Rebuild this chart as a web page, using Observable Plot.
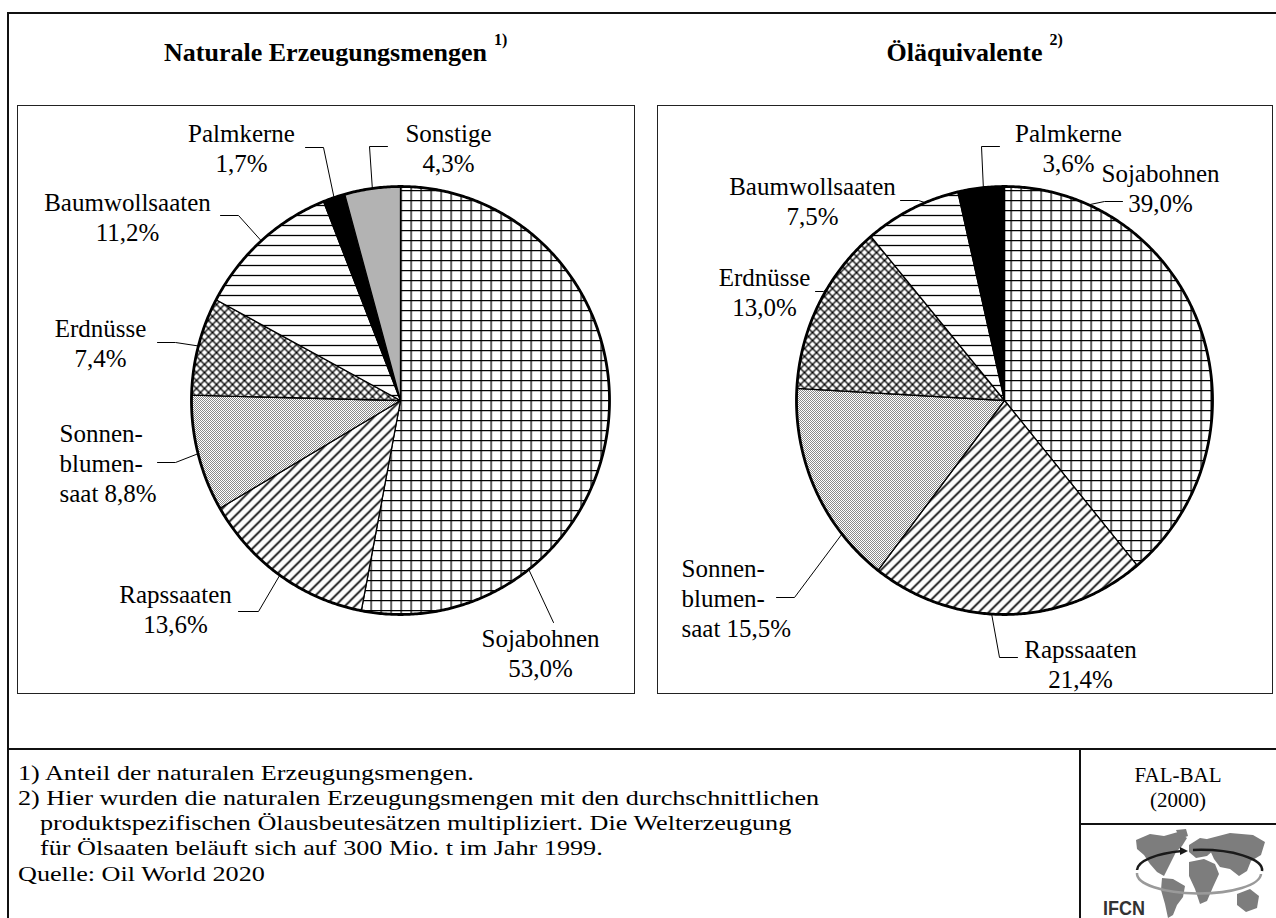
<!DOCTYPE html>
<html><head><meta charset="utf-8">
<script src="https://cdn.jsdelivr.net/npm/d3@7"></script>
<script src="https://cdn.jsdelivr.net/npm/@observablehq/plot@0.6"></script>
<style>
html,body{margin:0;padding:0;background:#fff;}
body{width:1276px;height:918px;overflow:hidden;position:relative;font-family:"Liberation Serif","Times New Roman",serif;color:#000;}
.abs{position:absolute;}
.line{position:absolute;border-color:#111;border-style:solid;border-width:0;}
.title{position:absolute;top:38px;font-weight:bold;font-size:26px;line-height:30px;text-align:center;white-space:nowrap;}
.title .inner{position:relative;}
.title sup{position:absolute;left:100%;margin-left:7px;top:-6px;font-size:16px;line-height:16px;}
.fn{position:absolute;font-size:22px;line-height:25px;height:25px;white-space:nowrap;transform:scaleX(1.19);transform-origin:0 0;}
.src{position:absolute;font-size:21px;line-height:22px;text-align:center;white-space:nowrap;}
</style></head>
<body>
<!-- frame -->
<div class="line" style="left:7px;top:12px;width:1300px;height:1000px;border-width:2px;"></div>
<div class="line" style="left:17px;top:105px;width:616px;height:587px;border-width:1px;border-color:#222;"></div>
<div class="line" style="left:657px;top:105px;width:614px;height:587px;border-width:1px;border-color:#222;"></div>
<div class="line" style="left:7px;top:748px;width:1280px;height:0;border-top-width:2px;"></div>
<div class="line" style="left:1079px;top:748px;width:0;height:200px;border-left-width:2px;"></div>
<div class="line" style="left:1079px;top:823px;width:220px;height:0;border-top-width:2px;"></div>

<div class="title" style="left:17px;width:617px;"><span class="inner">Naturale Erzeugungsmengen<sup>1)</sup></span></div>
<div class="title" style="left:657px;width:615px;"><span class="inner">Öläquivalente<sup>2)</sup></span></div>

<div id="chart" class="abs" style="left:0;top:0;"></div>

<div class="fn" style="left:18px;top:760px;">1) Anteil der naturalen Erzeugungsmengen.</div>
<div class="fn" style="left:18px;top:785px;">2) Hier wurden die naturalen Erzeugungsmengen mit den durchschnittlichen</div>
<div class="fn" style="left:40px;top:810px;">produktspezifischen Ölausbeutesätzen multipliziert. Die Welterzeugung</div>
<div class="fn" style="left:40px;top:835px;">für Ölsaaten beläuft sich auf 300 Mio. t im Jahr 1999.</div>
<div class="fn" style="left:18px;top:861px;">Quelle: Oil World 2020</div>

<div class="src" style="left:1080px;width:196px;top:764px;">FAL-BAL</div>
<div class="src" style="left:1080px;width:196px;top:789px;">(2000)</div>

<svg class="abs" style="left:1080px;top:824px;" width="196" height="94" viewBox="0 0 196 94">
  <g fill="#7d7d7d">
    <path d="M56,16 L70,10 L84,12 L98,8 L107,14 L102,22 L96,28 L92,36 L88,44 L84,52 L77,48 L70,40 L64,31 L57,25 Z"/>
    <path d="M96,6 L106,5 L108,12 L100,15 Z"/>
    <path d="M82,54 L93,55 L105,62 L103,73 L97,81 L93,91 L88,94 L85,80 L81,66 Z"/>
    <path d="M109,21 L120,14 L133,16 L135,25 L127,32 L116,34 L109,28 Z"/>
    <path d="M109,38 L124,35 L135,40 L139,50 L133,63 L127,77 L120,80 L115,65 L109,52 Z"/>
    <path d="M127,15 L150,9 L173,11 L185,18 L181,31 L171,37 L167,47 L159,52 L150,45 L140,43 L134,35 L129,24 Z"/>
    <path d="M157,70 L170,65 L179,72 L177,84 L166,88 L157,81 Z"/>
  </g>
  <path d="M181,50 A62,20 0 0 1 57,49" fill="none" stroke="#9a9a9a" stroke-width="2.5"/>
  <path d="M57,46 A62,20 0 0 1 102,27" fill="none" stroke="#1a1a1a" stroke-width="2.5"/>
  <path d="M100,23 L108,27 L100,31 Z" fill="#1a1a1a"/>
  <path d="M113,26 A62,20 0 0 1 182,47" fill="none" stroke="#1a1a1a" stroke-width="2.5"/>
  <text x="23" y="91" font-family="Liberation Sans, Arial, sans-serif" font-weight="bold" font-size="20" fill="#333" textLength="42" lengthAdjust="spacingAndGlyphs">IFCN</text>
</svg>

<script>
// ---------------- data ----------------
const categoriesLeft  = ["Sojabohnen", "Rapssaaten", "Sonnenblumensaat", "Erdnüsse", "Baumwollsaaten", "Palmkerne", "Sonstige"];
const valuesLeft      = [53.0, 13.6, 8.8, 7.4, 11.2, 1.7, 4.3];
const categoriesRight = ["Sojabohnen", "Rapssaaten", "Sonnenblumensaat", "Erdnüsse", "Baumwollsaaten", "Palmkerne"];
const valuesRight     = [39.0, 21.4, 15.5, 13.0, 7.5, 3.6];
const displayNames    = {"Sonnenblumensaat": "Sonnen-\nblumen-\nsaat"};

// ---------------- styles / layout ----------------
const patternByCategory = {
  "Sojabohnen": "url(#pat-grid)",
  "Rapssaaten": "url(#pat-diag)",
  "Sonnenblumensaat": "url(#pat-dots)",
  "Erdnüsse": "url(#pat-cross)",
  "Baumwollsaaten": "url(#pat-horiz)",
  "Palmkerne": "#000000",
  "Sonstige": "#b3b3b3"
};
const pieLeft  = {cx: 400, cy: 400, rx: 209, ry: 214};
const pieRight = {cx: 1004, cy: 400, rx: 208, ry: 214};

// label placement: text centre, leader start, horizontal tick, position along the slice edge
const labelLayoutLeft = [
  {tx: 540, ty: 652, anchor: "middle", lx: 553, ly: 622, tick: 0,   t: 0.745},
  {tx: 175, ty: 608, anchor: "middle", lx: 238, ly: 611, tick: 20,  t: 0.5},
  {tx: 59,  ty: 462, anchor: "start",  lx: 157, ly: 462, tick: 18,  t: 0.5},
  {tx: 100, ty: 342, anchor: "middle", lx: 157, ly: 342, tick: 18,  t: 0.5},
  {tx: 127, ty: 216, anchor: "middle", lx: 220, ly: 215, tick: 18,  t: 0.5},
  {tx: 241, ty: 147, anchor: "middle", lx: 305, ly: 147, tick: 18,  t: 0.5},
  {tx: 448, ty: 147, anchor: "middle", lx: 387, ly: 146, tick: -18, t: 0.5}
];
const labelLayoutRight = [
  {tx: 1160, ty: 187, anchor: "middle", lx: 1122, ly: 201, tick: -18, t: 0.17},
  {tx: 1080, ty: 663, anchor: "middle", lx: 1017, ly: 657, tick: -18, t: 0.56},
  {tx: 681,  ty: 597, anchor: "start",  lx: 776,  ly: 597, tick: 18,  t: 0.25},
  {tx: 764,  ty: 291, anchor: "middle", lx: 815,  ly: 291, tick: 8,   t: 0.6},
  {tx: 812,  ty: 200, anchor: "middle", lx: 900,  ly: 200, tick: 18,  t: 0.65},
  {tx: 1068, ty: 147, anchor: "middle", lx: 999,  ly: 146, tick: -18, t: 0.55}
];

// ---------------- geometry from data ----------------
function buildPie(categories, values, pie, layout, key) {
  const arcs = d3.pie().sort(null).startAngle(0).endAngle(2 * Math.PI)(values);
  const pt = a => ({x: pie.cx + pie.rx * Math.sin(a), y: pie.cy - pie.ry * Math.cos(a)});
  const slices = arcs.map((a, i) => {
    const pts = [{x: pie.cx, y: pie.cy}];
    const n = Math.max(4, Math.ceil((a.endAngle - a.startAngle) / 0.01));
    for (let k = 0; k <= n; k++) pts.push(pt(a.startAngle + (a.endAngle - a.startAngle) * k / n));
    return {category: categories[i], value: values[i], start: a.startAngle, end: a.endAngle, points: pts};
  });
  const outline = d3.range(0, 721).map(k => pt(k / 720 * 2 * Math.PI));
  const labels = slices.map((s, i) => {
    const L = layout[i];
    const name = displayNames[s.category] || s.category;
    const pct = s.value.toFixed(1).replace(".", ",") + "%";
    const text = name.includes("\n") ? name + " " + pct : name + "\n" + pct;
    return {text, x: L.tx, y: L.ty, anchor: L.anchor};
  });
  const leaders = [];
  slices.forEach((s, i) => {
    const L = layout[i];
    const id = key + i;
    const end = pt(s.start + (s.end - s.start) * L.t);
    leaders.push({id, x: L.lx, y: L.ly});
    if (L.tick !== 0) leaders.push({id, x: L.lx + L.tick, y: L.ly});
    leaders.push({id, x: end.x, y: end.y});
  });
  return {slices, outline, labels, leaders};
}

const left = buildPie(categoriesLeft, valuesLeft, pieLeft, labelLayoutLeft, "L");
const right = buildPie(categoriesRight, valuesRight, pieRight, labelLayoutRight, "R");

function pieMarks(p) {
  const marks = p.slices.map(s => Plot.line(s.points, {
    x: "x", y: "y", curve: "linear-closed",
    fill: patternByCategory[s.category], stroke: "#000", strokeWidth: 1.3, strokeLinejoin: "round"
  }));
  marks.push(Plot.line(p.outline, {x: "x", y: "y", curve: "linear-closed", fill: "none", stroke: "#000", strokeWidth: 2.8}));
  marks.push(Plot.line(p.leaders, {x: "x", y: "y", z: "id", stroke: "#000", strokeWidth: 1}));
  for (const anchor of ["start", "middle"]) {
    marks.push(Plot.text(p.labels.filter(d => d.anchor === anchor), {
      x: "x", y: "y", text: "text", textAnchor: anchor, lineAnchor: "middle",
      fontFamily: "Liberation Serif, Times New Roman, serif", fontSize: 25, lineHeight: 1.2, fill: "#000"
    }));
  }
  return marks;
}

const W = 1276, H = 918;
const svg = Plot.plot({
  width: W, height: H, margin: 0,
  x: {domain: [0, W], range: [0, W], axis: null},
  y: {domain: [0, H], range: [0, H], axis: null},
  style: {background: "transparent", overflow: "visible"},
  marks: [...pieMarks(left), ...pieMarks(right)]
});

const defs = d3.select(svg).insert("defs", ":first-child");
defs.html(`
<pattern id="pat-grid" patternUnits="userSpaceOnUse" width="10" height="10" x="0" y="-0.5">
  <rect width="10" height="10" fill="#fff"/>
  <path d="M0 0.5H10M0.5 0V10" stroke="#000" stroke-width="1.5"/>
</pattern>
<pattern id="pat-horiz" patternUnits="userSpaceOnUse" width="10" height="10" x="-0.5" y="-0.5">
  <rect width="10" height="10" fill="#fff"/>
  <path d="M0 5.5H10" stroke="#000" stroke-width="1.3"/>
</pattern>
<pattern id="pat-diag" patternUnits="userSpaceOnUse" width="10" height="10">
  <rect width="10" height="10" fill="#fff"/>
  <path d="M-1 11L11 -1M-1 1L1 -1M9 11L11 9" stroke="#000" stroke-width="1.6"/>
</pattern>
<pattern id="pat-cross" patternUnits="userSpaceOnUse" width="8" height="8">
  <rect width="8" height="8" fill="#fff"/>
  <path d="M-1 -1L9 9M-1 9L9 -1" stroke="#000" stroke-width="1.3"/>
</pattern>
<pattern id="pat-dots" patternUnits="userSpaceOnUse" width="2" height="2" x="-0.5" y="-0.5">
  <rect width="2" height="2" fill="#fff"/>
  <rect x="0" y="0" width="1" height="1" fill="#8a8a8a"/>
  <rect x="1" y="1" width="1" height="1" fill="#8a8a8a"/>
</pattern>`);

document.getElementById("chart").appendChild(svg);
</script>
</body></html>
